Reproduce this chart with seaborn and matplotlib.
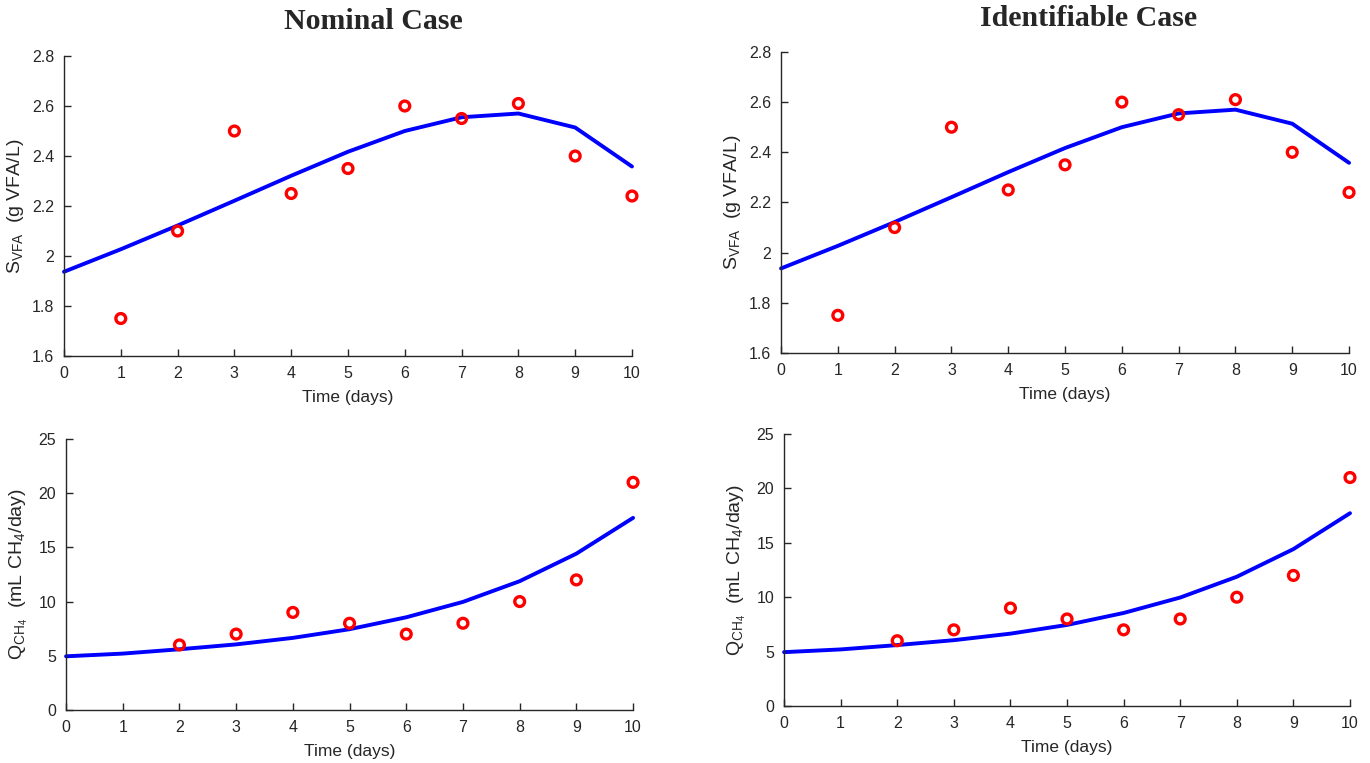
import matplotlib
matplotlib.use("Agg")
import matplotlib.pyplot as plt
import seaborn as sns
import numpy as np
from matplotlib.ticker import FormatStrFormatter

sns.set_theme(style="white")
plt.rcParams['font.family'] = ['Liberation Sans', 'DejaVu Sans']
plt.rcParams['mathtext.fontset'] = 'custom'
plt.rcParams['mathtext.rm'] = 'Liberation Sans'
plt.rcParams['mathtext.it'] = 'Liberation Sans:italic'

# ---- data ----
time_model = [0, 1, 2, 3, 4, 5, 6, 7, 8, 9, 10]
svfa_model = [1.937, 2.027, 2.122, 2.221, 2.321, 2.417, 2.500, 2.555, 2.570, 2.514, 2.358]
time_svfa_obs = [1, 2, 3, 4, 5, 6, 7, 8, 9, 10]
svfa_obs = [1.75, 2.10, 2.50, 2.25, 2.35, 2.60, 2.55, 2.61, 2.40, 2.24]

qch4_model = [4.95, 5.2, 5.6, 6.05, 6.65, 7.45, 8.55, 9.97, 11.88, 14.42, 17.72]
time_q_obs = [2, 3, 4, 5, 6, 7, 8, 9, 10]
qch4_obs = [6, 7, 9, 8, 7, 8, 10, 12, 21]

titles = ["Nominal Case", "Identifiable Case"]
xticks = list(range(0, 11))
svfa_ticks = [1.6, 1.8, 2.0, 2.2, 2.4, 2.6, 2.8]
q_ticks = [0, 5, 10, 15, 20, 25]

fig = plt.figure(figsize=(13.7, 7.63), dpi=100)
positions = {
    (0, 0): [0.0467, 0.5334, 0.4146, 0.3932],
    (1, 0): [0.0482, 0.0695, 0.4139, 0.3552],
    (0, 1): [0.5701, 0.5374, 0.4146, 0.3945],
    (1, 1): [0.5723, 0.0747, 0.4131, 0.3565],
}
axcol = '#262626'
tick_fs = 11.5

for col in range(2):
    for row in range(2):
        ax = fig.add_axes(positions[(row, col)])
        if row == 0:
            sns.lineplot(x=time_model, y=svfa_model, ax=ax, color='#0000ff', linewidth=2.8, clip_on=False)
            sns.scatterplot(x=time_svfa_obs, y=svfa_obs, ax=ax, marker='o', s=50,
                            facecolor='none', edgecolor='red', linewidth=2.4, zorder=3, clip_on=False)
            ax.set_ylim(1.6, 2.8)
            ax.set_yticks(svfa_ticks)
            ax.yaxis.set_major_formatter(FormatStrFormatter('%g'))
            ax.set_ylabel(r'S$_{\mathrm{VFA}}$  (g VFA/L)', fontsize=14, color=axcol, labelpad=4)
        else:
            sns.lineplot(x=time_model, y=qch4_model, ax=ax, color='#0000ff', linewidth=2.8, clip_on=False)
            sns.scatterplot(x=time_q_obs, y=qch4_obs, ax=ax, marker='o', s=50,
                            facecolor='none', edgecolor='red', linewidth=2.4, zorder=3, clip_on=False)
            ax.set_ylim(0, 25)
            ax.set_yticks(q_ticks)
            ax.set_ylabel(r'Q$_{\mathrm{CH}_4}$  (mL CH$_4$/day)', fontsize=14, color=axcol, labelpad=6)
        ax.set_xlim(0, 10)
        ax.set_xticks(xticks)
        ax.set_xlabel('Time (days)', fontsize=12.5, color=axcol, labelpad=7)
        for s in ['top', 'right']:
            ax.spines[s].set_visible(False)
        for s in ['left', 'bottom']:
            ax.spines[s].set_color(axcol)
            ax.spines[s].set_linewidth(1.0)
        ax.tick_params(direction='in', length=5, width=1, colors=axcol,
                       labelsize=tick_fs, pad=7, left=True, bottom=True)
        ax.set_facecolor('white')

fig.text(0.2723, 0.972, titles[0], ha='center', va='center', fontsize=21.5,
         fontweight='bold', family=['Liberation Serif', 'DejaVu Serif'])
fig.text(0.7949, 0.976, titles[1], ha='center', va='center', fontsize=21.5,
         fontweight='bold', family=['Liberation Serif', 'DejaVu Serif'])

fig.savefig('out.png', dpi=100, facecolor='white')
